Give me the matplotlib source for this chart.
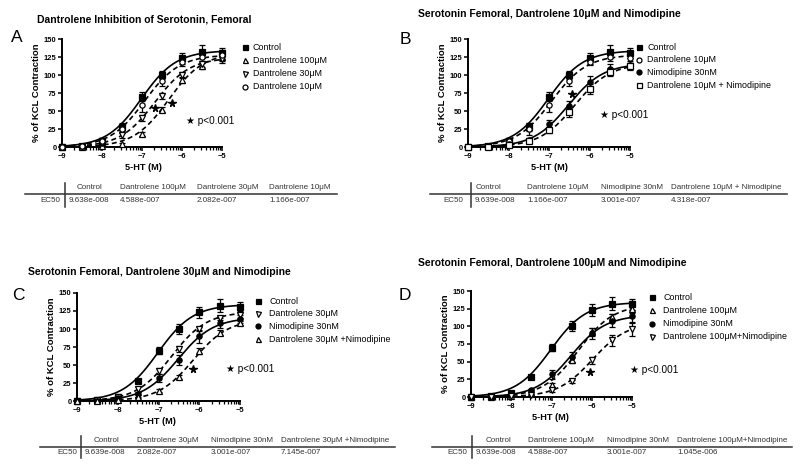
import numpy as np
import matplotlib
matplotlib.use('Agg')
import matplotlib.pyplot as plt
from matplotlib.lines import Line2D

plt.rcParams['font.family'] = ['Liberation Sans', 'DejaVu Sans']

W, H = 800, 466

# log [5-HT] (M) at which contraction was measured
log_dose = [-9, -8.5, -8, -7.5, -7, -6.5, -6, -5.5, -5]

# Panel A
ctrl_a = [0, 1, 8, 28, 70, 100, 123, 132, 130]
ctrl_a_err = [0, 1, 5, 6, 6, 6, 8, 9, 8]
d100_a = [0, 0, 2, 4, 18, 52, 93, 113, 125]
d100_a_err = [0, 0, 1, 2, 3, 4, 4, 4, 5]
d30_a = [0, 0, 5, 16, 40, 71, 100, 115, 122]
d30_a_err = [0, 0, 2, 3, 4, 4, 4, 4, 6]
d10_a = [0, 1, 8, 25, 58, 92, 118, 125, 128]
d10_a_err = [0, 1, 4, 6, 9, 7, 5, 6, 7]

# Panel B
ctrl_b = [0, 1, 8, 28, 70, 100, 123, 132, 131]
ctrl_b_err = [0, 1, 5, 6, 6, 6, 8, 9, 7]
d10_b = [0, 1, 8, 25, 58, 92, 118, 125, 123]
d10_b_err = [0, 1, 4, 9, 9, 7, 4, 5, 7]
nimo_b = [0, 0, 4, 10, 32, 57, 90, 108, 114]
nimo_b_err = [0, 0, 2, 2, 6, 7, 9, 7, 6]
d10nimo_b = [0, 0, 3, 8, 23, 48, 80, 104, 112]
d10nimo_b_err = [0, 0, 1, 2, 3, 6, 7, 6, 5]

# Panel C
ctrl_c = [0, 1, 5, 28, 70, 100, 123, 132, 131]
ctrl_c_err = [0, 1, 2, 2, 5, 7, 8, 9, 7]
d30_c = [0, 1, 6, 16, 42, 72, 100, 115, 120]
d30_c_err = [0, 1, 2, 4, 4, 4, 3, 3, 5]
nimo_c = [0, 0, 4, 10, 32, 57, 90, 108, 114]
nimo_c_err = [0, 0, 2, 2, 5, 7, 9, 7, 6]
d30nimo_c = [0, 0, 2, 5, 14, 33, 69, 95, 108]
d30nimo_c_err = [0, 0, 1, 1, 2, 3, 4, 4, 3]

# Panel D
ctrl_d = [0, 1, 5, 28, 70, 100, 123, 132, 131]
ctrl_d_err = [0, 1, 2, 2, 5, 7, 8, 9, 8]
d100_d = [0, 0, 2, 5, 17, 52, 92, 113, 125]
d100_d_err = [0, 0, 1, 2, 3, 4, 5, 5, 6]
nimo_d = [0, 0, 4, 10, 32, 57, 90, 108, 114]
nimo_d_err = [0, 0, 2, 2, 6, 7, 8, 9, 9]
d100nimo_d = [0, 0, 2, 3, 10, 22, 52, 80, 96]
d100nimo_d_err = [0, 0, 1, 1, 3, 2, 5, 8, 10]

# EC50 values (M) from the tables, and fitted tops
ec50_ctrl, top_ctrl = 9.639e-8, 134
ec50_d100, top_d100 = 4.588e-7, 131
ec50_d30, top_d30 = 2.082e-7, 124
ec50_d10, top_d10 = 1.166e-7, 128
ec50_nimo, top_nimo = 3.001e-7, 116
ec50_d10nimo, top_d10nimo = 4.318e-7, 116
ec50_d30nimo, top_d30nimo = 7.145e-7, 114
ec50_d100nimo, top_d100nimo = 1.045e-6, 106

# significance star positions (log dose, %)
stars_a = [(-6.68, 54), (-6.24, 61)]
stars_b = [(-6.42, 74)]
stars_c = [(-6.15, 45)]
stars_d = [(-6.04, 36)]

# marker style per group: (marker, filled, linestyle)
STYLE = {
    'ctrl': ('s', True, '-'),
    'd100': ('^', False, '--'),
    'd30': ('v', False, '--'),
    'd10': ('o', False, '--'),
    'nimo': ('o', True, '-'),
    'd10nimo': ('s', False, '--'),
    'd30nimo': ('^', False, '--'),
    'd100nimo': ('v', False, '--'),
}

fig = plt.figure(figsize=(W / 100, H / 100), dpi=100)


def fx(x):
    return x / W


def fy(y):
    return 1 - y / H


def ftext(x, y, s, **kw):
    kw.setdefault('va', 'center')
    kw.setdefault('color', 'black')
    fig.text(fx(x), fy(y), s, **kw)


def fline(x0, y0, x1, y1, lw=1.0, color='#333333'):
    fig.add_artist(Line2D([fx(x0), fx(x1)], [fy(y0), fy(y1)],
                          transform=fig.transFigure, color=color, lw=lw))


def fmarker(x, y, key):
    mk, filled, _ = STYLE[key]
    fig.add_artist(Line2D([fx(x)], [fy(y)], transform=fig.transFigure,
                          marker=mk, ms=3.6, color='black', mew=0.9,
                          mfc='black' if filled else 'white', ls='none'))


def draw_panel(box, title, title_xy, letter, letter_xy, series, stars,
               legend_xy, legend_labels, p_xy, xlab_xy, table):
    left, top, right, bottom = box
    ax = fig.add_axes([fx(left), fy(bottom), fx(right - left), (bottom - top) / H])
    xfit = np.linspace(-9, -5, 300)
    for key, yv, err, ec50, topv in series:
        mk, filled, ls = STYLE[key]
        yfit = topv / (1 + 10 ** (np.log10(ec50) - xfit))
        ax.plot(xfit, yfit, color='black', lw=1.2, ls=ls, dashes=(3, 2) if ls == '--' else (None, None))
        ax.errorbar(log_dose, yv, yerr=err, fmt=mk, color='black', ms=3.8,
                    mfc='black' if filled else 'white', mew=0.9,
                    elinewidth=0.9, capsize=2, capthick=0.9, clip_on=False, zorder=3)
    for sx, sy in stars:
        ax.plot(sx, sy, marker='*', color='black', ms=5.5, ls='none')
    ax.set_xlim(-9, -5)
    ax.set_ylim(0, 150)
    ax.set_yticks([0, 25, 50, 75, 100, 125, 150])
    ax.set_xticks([-9, -8, -7, -6, -5])
    minors = [d + np.log10(k) for d in (-9, -8, -7, -6) for k in range(2, 10)]
    ax.set_xticks(minors, minor=True)
    for s in ('top', 'right'):
        ax.spines[s].set_visible(False)
    for s in ('left', 'bottom'):
        ax.spines[s].set_linewidth(1.4)
    ax.tick_params(axis='both', which='major', length=3, width=1.1, pad=1, labelsize=5.4)
    ax.tick_params(axis='x', which='minor', length=2, width=0.9)
    for lab in ax.get_xticklabels() + ax.get_yticklabels():
        lab.set_fontweight('bold')
    ax.set_ylabel('% of KCL Contraction', fontsize=6.8, fontweight='bold', labelpad=2)

    ftext(title_xy[0], title_xy[1], title, fontsize=7.5, fontweight='bold', ha='left')
    ftext(letter_xy[0], letter_xy[1], letter, fontsize=12.5, ha='center')

    lx, ly, dy, tx = legend_xy
    for i, ((key, *_), lab) in enumerate(zip(series, legend_labels)):
        fmarker(lx, ly + i * dy, key)
        ftext(tx, ly + i * dy, lab, fontsize=6.4, ha='left')

    ftext(p_xy[0], p_xy[1], '\u2605 p<0.001', fontsize=7.2, ha='left')
    ftext(xlab_xy[0], xlab_xy[1], '5-HT (M)', fontsize=6.6, fontweight='bold', ha='center')

    # EC50 table
    vx, hy, hx0, hx1, ec_right, cols, head_y, row_y = table
    fline(vx, head_y - 5, vx, row_y + 6, lw=1.1)
    fline(hx0, hy, hx1, hy, lw=1.1)
    ftext(ec_right, row_y, 'EC50', fontsize=5.8, ha='right', color='#333333')
    for head, val, cx in cols:
        ftext(cx, head_y, head, fontsize=5.8, ha='left', color='#333333')
        ftext(cx if head != 'Control' else vx + 4, row_y, val, fontsize=5.8, ha='left', color='#333333')


draw_panel(
    (62, 39, 222, 147), 'Dantrolene Inhibition of Serotonin, Femoral', (37, 20),
    'A', (17, 38),
    [('ctrl', ctrl_a, ctrl_a_err, ec50_ctrl, top_ctrl),
     ('d100', d100_a, d100_a_err, ec50_d100, top_d100),
     ('d30', d30_a, d30_a_err, ec50_d30, top_d30),
     ('d10', d10_a, d10_a_err, ec50_d10, top_d10)],
    stars_a, (245, 47, 13.3, 253),
    ['Control', 'Dantrolene 100\u03bcM', 'Dantrolene 30\u03bcM', 'Dantrolene 10\u03bcM'],
    (186, 121), (143, 168),
    (65, 194, 25, 337, 60,
     [('Control', '9.638e-008', 77), ('Dantrolene 100\u03bcM', '4.588e-007', 120),
      ('Dantrolene 30\u03bcM', '2.082e-007', 197), ('Dantrolene 10\u03bcM', '1.166e-007', 269)],
     188, 201))

draw_panel(
    (468, 39, 630, 147), 'Serotonin Femoral, Dantrolene 10\u03bcM and Nimodipine', (418, 14),
    'B', (405, 39),
    [('ctrl', ctrl_b, ctrl_b_err, ec50_ctrl, top_ctrl),
     ('d10', d10_b, d10_b_err, ec50_d10, top_d10),
     ('nimo', nimo_b, nimo_b_err, ec50_nimo, top_nimo),
     ('d10nimo', d10nimo_b, d10nimo_b_err, ec50_d10nimo, top_d10nimo)],
    stars_b, (639, 47, 12.7, 647),
    ['Control', 'Dantrolene 10\u03bcM', 'Nimodipine 30nM', 'Dantrolene 10\u03bcM + Nimodipine'],
    (600, 115), (549, 168),
    (471, 194, 430, 787, 463,
     [('Control', '9.639e-008', 476), ('Dantrolene 10\u03bcM', '1.166e-007', 527),
      ('Nimodipine 30nM', '3.001e-007', 601), ('Dantrolene 10\u03bcM + Nimodipine', '4.318e-007', 671)],
     188, 201))

draw_panel(
    (77, 293, 240, 401), 'Serotonin Femoral, Dantrolene 30\u03bcM and Nimodipine', (28, 272),
    'C', (18, 296),
    [('ctrl', ctrl_c, ctrl_c_err, ec50_ctrl, top_ctrl),
     ('d30', d30_c, d30_c_err, ec50_d30, top_d30),
     ('nimo', nimo_c, nimo_c_err, ec50_nimo, top_nimo),
     ('d30nimo', d30nimo_c, d30nimo_c_err, ec50_d30nimo, top_d30nimo)],
    stars_c, (258, 301, 12.7, 269),
    ['Control', 'Dantrolene 30\u03bcM', 'Nimodipine 30nM', 'Dantrolene 30\u03bcM +Nimodipine'],
    (226, 369), (157, 422),
    (81, 447, 40, 395, 77,
     [('Control', '9.639e-008', 94), ('Dantrolene 30\u03bcM', '2.082e-007', 137),
      ('Nimodipine 30nM', '3.001e-007', 211), ('Dantrolene 30\u03bcM +Nimodipine', '7.145e-007', 281)],
     441, 452))

draw_panel(
    (471, 291, 632, 397), 'Serotonin Femoral, Dantrolene 100\u03bcM and Nimodipine', (418, 263),
    'D', (405, 296),
    [('ctrl', ctrl_d, ctrl_d_err, ec50_ctrl, top_ctrl),
     ('d100', d100_d, d100_d_err, ec50_d100, top_d100),
     ('nimo', nimo_d, nimo_d_err, ec50_nimo, top_nimo),
     ('d100nimo', d100nimo_d, d100nimo_d_err, ec50_d100nimo, top_d100nimo)],
    stars_d, (652, 297, 13.3, 663),
    ['Control', 'Dantrolene 100\u03bcM', 'Nimodipine 30nM', 'Dantrolene 100\u03bcM+Nimodipine'],
    (630, 370), (550, 418),
    (472, 447, 432, 792, 467,
     [('Control', '9.639e-008', 486), ('Dantrolene 100\u03bcM', '4.588e-007', 528),
      ('Nimodipine 30nM', '3.001e-007', 607), ('Dantrolene 100\u03bcM+Nimodipine', '1.045e-006', 677)],
     441, 452))

fig.savefig('out.png', dpi=100)
